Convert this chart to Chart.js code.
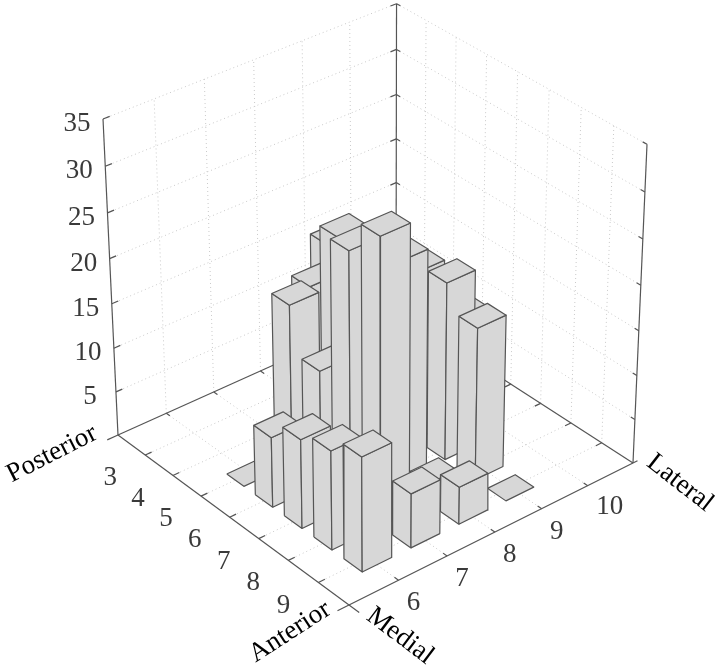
<!DOCTYPE html>
<html><head><meta charset="utf-8">
<style>html,body{margin:0;padding:0;background:#fff}canvas{display:block}</style>
<script src="https://cdn.jsdelivr.net/npm/chart.js@4"></script>
</head><body><canvas id="c" width="720" height="667"></canvas>
<script>
// ---- data ----
const lateralTicks = [6,7,8,9,10];
const anteriorTicks = [3,4,5,6,7,8,9];
const heightTicks = [5,10,15,20,25,30,35];
// bar heights per medial-lateral bin, indexed by anteriorTicks; null = no bar
const barsAt6  = [null,null,0,7.9,10,11.1,12.8];
const barsAt7  = [null,null,17.9,12.8,28,31.6,6.1];
const barsAt8  = [null,15.4,23,20,24.5,2.2,4.2];
const barsAt9  = [15.7,null,null,18.9,19.9,17.1,0];
const barsAt10 = [null,null,null,11.2,null,null,null];
const barColumns = [barsAt6,barsAt7,barsAt8,barsAt9,barsAt10];
const cornerLabels = ['Posterior','Anterior','Medial','Lateral'];

// ---- camera (perspective of the 3D box on the page) ----
const uMin=5,uMax=11,vMin=2,vMax=10,zMax=35,halfBar=0.3;
const cLeft=[118,435],cBack=[396,310],cRight=[633,463],cFront=[349,605];
const vanish=[386,6083],topLeftY=119;
function makeCamera(){
  const [x0,y0]=cLeft,[x1,y1]=cBack,[x2,y2]=cRight,[x3,y3]=cFront;
  const dx1=x1-x2,dx2=x3-x2,sx=x0-x1+x2-x3,dy1=y1-y2,dy2=y3-y2,sy=y0-y1+y2-y3;
  const den=dx1*dy2-dx2*dy1;
  const g=(sx*dy2-dx2*sy)/den,h=(dx1*sy-sx*dy1)/den;
  const t=(topLeftY-y0)/(vanish[1]-y0),l=t/(1-t);
  return {a:x1-x0+g*x1,b:x3-x0+h*x3,c:x0,d:y1-y0+g*y1,e:y3-y0+h*y3,f:y0,g,h,l};
}
const cam=makeCamera();
function P(u,v,z){
  const s=(u-uMin)/(uMax-uMin),t=(v-vMin)/(vMax-vMin),k=z/zMax*cam.l;
  const w=cam.g*s+cam.h*t+1+k;
  return {x:(cam.a*s+cam.b*t+cam.c+k*vanish[0])/w,y:(cam.d*s+cam.e*t+cam.f+k*vanish[1])/w};
}

// ---- build datasets: index 0 is painted last, so everything is unshifted ----
const datasets=[];
const base={showLine:true,pointRadius:0,pointHoverRadius:0,tension:0,clip:false,borderJoinStyle:'round'};
const add=(pts,o)=>datasets.unshift(Object.assign({},base,{data:pts,fill:false},o));
const gridStyle={borderColor:'#c9c9c9',borderWidth:1,borderDash:[1,3]};
const axisStyle={borderColor:'#555',borderWidth:1.2};
const grid=(a,b)=>add([P(...a),P(...b)],gridStyle);
const axis=(a,b)=>add([P(...a),P(...b)],axisStyle);

// floor and wall grids
lateralTicks.forEach(u=>{grid([u,vMin,0],[u,vMax,0]);grid([u,vMin,0],[u,vMin,zMax]);});
anteriorTicks.forEach(v=>{grid([uMin,v,0],[uMax,v,0]);grid([uMax,v,0],[uMax,v,zMax]);});
heightTicks.forEach(z=>{grid([uMin,vMin,z],[uMax,vMin,z]);grid([uMax,vMin,z],[uMax,vMax,z]);});
// box edges
axis([uMin,vMin,0],[uMin,vMin,zMax]);
axis([uMax,vMin,0],[uMax,vMin,zMax]);
axis([uMax,vMax,0],[uMax,vMax,zMax]);
axis([uMin,vMin,0],[uMax,vMin,0]);
axis([uMax,vMin,0],[uMax,vMax,0]);
axis([uMin,vMin,0],[uMin,vMax+0.33,0]);
axis([uMin-0.23,vMax,0],[uMax+0.1,vMax,0]);
// ticks
const tk=0.13;
lateralTicks.forEach(u=>{axis([u,vMax,0],[u,vMax-tk,0]);axis([u,vMin,0],[u,vMin+tk,0]);});
anteriorTicks.forEach(v=>{axis([uMin,v,0],[uMin+tk,v,0]);axis([uMax,v,0],[uMax-tk,v,0]);});
heightTicks.forEach(z=>{
  axis([uMin,vMin,z],[uMin+tk,vMin,z]);
  axis([uMax,vMin,z],[uMax-tk,vMin,z]);
  axis([uMax,vMin,z],[uMax,vMin+tk,z]);
  axis([uMax,vMax,z],[uMax,vMax-tk,z]);
});
axis([uMin,vMin,0],[uMin-0.22,vMin,0]);

// bars, back to front
const cells=[];
barColumns.forEach((col,i)=>col.forEach((val,j)=>{
  if(val!==null)cells.push({u:lateralTicks[i],v:anteriorTicks[j],val});
}));
cells.sort((a,b)=>(a.v-a.u)-(b.v-b.u));
const barStyle={borderColor:'#555',borderWidth:1.2,backgroundColor:'#d7d7d7',fill:'shape'};
cells.forEach(({u,v,val})=>{
  const u0=u-halfBar,u1=u+halfBar,v0=v-halfBar,v1=v+halfBar;
  const poly=c=>{const p=c.map(q=>P(...q));p.push(p[0]);add(p,barStyle);};
  if(val>0){
    poly([[u0,v0,0],[u0,v1,0],[u0,v1,val],[u0,v0,val]]);
    poly([[u0,v1,0],[u1,v1,0],[u1,v1,val],[u0,v1,val]]);
  }
  poly([[u0,v0,val],[u0,v1,val],[u1,v1,val],[u1,v0,val]]);
});

// ---- text ----
const textPlugin={id:'axisText',afterDraw(chart){
  const {ctx,scales:{x,y}}=chart;
  const put=(t,p,dx,dy,rot,size,col)=>{
    ctx.save();
    ctx.translate(x.getPixelForValue(p.x)+dx,y.getPixelForValue(p.y)+dy);
    ctx.rotate(rot*Math.PI/180);
    ctx.font=size+'px "Liberation Serif"';ctx.fillStyle=col;
    ctx.textAlign='center';ctx.textBaseline='middle';
    ctx.fillText(t,0,0);ctx.restore();
  };
  heightTicks.forEach(z=>put(String(z),P(uMin,vMin,z),-26,5,0,27,'#3a3a3a'));
  anteriorTicks.forEach(v=>put(String(v),P(uMin,v,0),-35,23,0,27,'#3a3a3a'));
  lateralTicks.forEach(u=>put(String(u),P(u,vMax,0),u===10?22:15,u===10?21:23,0,27,'#3a3a3a'));
  put(cornerLabels[0],P(uMin,vMin,0),-66,19,-27,27,'#000');
  put(cornerLabels[1],P(uMin,vMax,0),-59,27,-33,27,'#000');
  put(cornerLabels[2],P(uMin,vMax,0),51,31,37,27,'#000');
  put(cornerLabels[3],P(uMax,vMax,0),47,20,38,27,'#000');
}};

new Chart(document.getElementById('c'),{
  type:'scatter',
  data:{datasets},
  options:{
    responsive:false,animation:false,events:[],
    layout:{padding:0},
    plugins:{legend:{display:false},tooltip:{enabled:false},title:{display:false}},
    scales:{
      x:{type:'linear',display:false,min:0,max:720},
      y:{type:'linear',display:false,min:0,max:667,reverse:true}
    }
  },
  plugins:[textPlugin]
});
</script></body></html>
